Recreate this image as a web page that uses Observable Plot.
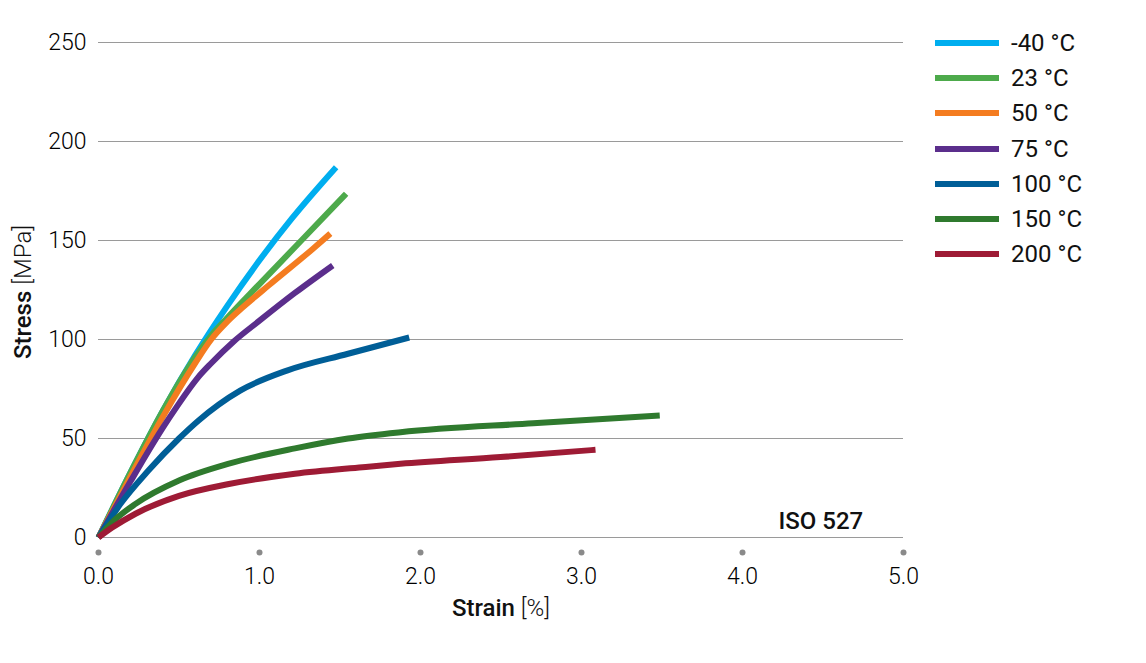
<!DOCTYPE html>
<html>
<head>
<meta charset="utf-8">
<script src="https://cdn.jsdelivr.net/npm/d3@7"></script>
<script src="https://cdn.jsdelivr.net/npm/@observablehq/plot@0.6"></script>
<style>
  html, body { margin: 0; padding: 0; background: #fff; }
  #wrap { position: relative; width: 1146px; height: 663px; font-family: Roboto, "Liberation Sans", sans-serif; }
  #legend { position: absolute; left: 935px; top: 25px; }
  .item { display: flex; align-items: center; height: 35.3px; }
  .sw { width: 64px; height: 6px; margin-right: 12px; }
  .lab { font-size: 24px; color: #111; font-weight: 400; }
</style>
</head>
<body>
<div id="wrap"><div id="legend"></div></div>
<script>
// ---- data ----
const seriesNames = ["-40 °C", "23 °C", "50 °C", "75 °C", "100 °C", "150 °C", "200 °C"];
const seriesColors = ["#00AEEF", "#4DAA4B", "#F47C20", "#5B2E8C", "#005E97", "#2F7A2E", "#9E1B35"];

const strainM40 = [0, 0.2, 0.4, 0.6, 0.8, 1.0, 1.2, 1.476];
const stressM40 = [0, 33, 64, 92, 117, 140, 161, 187];

const strain23 = [0, 0.2, 0.4, 0.6, 0.7, 0.8, 1.0, 1.26, 1.538];
const stress23 = [0, 33, 64, 91, 102, 111, 128, 150, 173.6];

const strain50 = [0, 0.2, 0.4, 0.6, 0.7, 0.8, 0.9, 1.06, 1.327, 1.44];
const stress50 = [0, 31, 61, 88, 100, 109, 116.5, 127.5, 145.5, 153.5];

const strain75 = [0, 0.2, 0.4, 0.49, 0.55, 0.62, 0.7, 0.84, 1.0, 1.22, 1.455];
const stress75 = [0, 28.5, 55.5, 66.5, 73.5, 81, 88, 99, 109.5, 123.5, 137.4];

const strain100 = [0, 0.137, 0.31, 0.5, 0.62, 0.88, 1.17, 1.55, 1.93];
const stress100 = [0, 17, 33.8, 50, 59, 74.2, 84.3, 92.8, 101];

const strain150 = [0, 0.085, 0.23, 0.5, 0.81, 1.22, 1.55, 1.876, 2.7, 3.486];
const stress150 = [0, 7.7, 17, 28.8, 37.3, 45, 50, 53.2, 57.7, 61.6];

const strain200 = [0, 0.085, 0.23, 0.5, 0.81, 1.22, 1.64, 1.876, 2.497, 3.087];
const stress200 = [0, 5, 12, 21, 27, 32.2, 35.5, 37.2, 40.6, 44.3];

const xTicks = [0, 1, 2, 3, 4, 5];
const yTicks = [0, 50, 100, 150, 200, 250];
const note = "ISO 527";

// ---- build table ----
const strains = [strainM40, strain23, strain50, strain75, strain100, strain150, strain200];
const stresses = [stressM40, stress23, stress50, stress75, stress100, stress150, stress200];
const rows = [];
seriesNames.forEach((name, i) => {
  strains[i].forEach((s, j) => rows.push({series: name, strain: s, stress: stresses[i][j]}));
});

const chart = Plot.plot({
  width: 1146,
  height: 663,
  marginLeft: 98,
  marginRight: 243,
  marginTop: 42,
  marginBottom: 126,
  style: {fontFamily: "Roboto, 'Liberation Sans', sans-serif", fontSize: "22px", color: "#111", background: "white"},
  x: {domain: [0, 5], ticks: xTicks, tickFormat: d => d.toFixed(1), label: null},
  y: {domain: [0, 250], ticks: yTicks, label: null},
  color: {domain: seriesNames, range: seriesColors},
  marks: [
    Plot.ruleY(yTicks, {stroke: "#9a9a9a", strokeWidth: 1.2}),
    Plot.axisY(yTicks, {tickSize: 0, tickPadding: 12, fontWeight: 300, fontSize: 23, fill: "#000"}),
    Plot.axisX(xTicks, {tickSize: 0, tickPadding: 30, fontWeight: 300, fontSize: 23, fill: "#000", tickFormat: d => d.toFixed(1)}),
    Plot.dot(xTicks, {x: d => d, y: 0, dy: 15, r: 3, fill: "#8a8a8a", stroke: null}),
    Plot.line(rows, {x: "strain", y: "stress", z: "series", stroke: "series", strokeWidth: 6, curve: "monotone-x", strokeLinecap: "butt"}),
    Plot.text([note], {x: 4.75, y: 8, text: d => d, textAnchor: "end", fontSize: 24, fontWeight: 500, fill: "#111"})
  ]
});
document.getElementById("wrap").prepend(chart);
chart.style.position = "absolute";
chart.style.left = "0";
chart.style.top = "0";

// axis titles with mixed weights
const svg = d3.select(chart);
const xt = svg.append("text").attr("x", 501).attr("y", 616).attr("text-anchor", "middle")
  .attr("font-size", 24).attr("fill", "#111");
xt.append("tspan").attr("font-weight", 500).text("Strain ");
xt.append("tspan").attr("font-weight", 300).text("[%]");
const yt = svg.append("text").attr("transform", "translate(31,292) rotate(-90)").attr("text-anchor", "middle")
  .attr("font-size", 24).attr("fill", "#111");
yt.append("tspan").attr("font-weight", 500).text("Stress ");
yt.append("tspan").attr("font-weight", 300).text("[MPa]");

// legend
const legend = d3.select("#legend");
seriesNames.forEach((n, i) => {
  const it = legend.append("div").attr("class", "item");
  it.append("div").attr("class", "sw").style("background", seriesColors[i]);
  it.append("span").attr("class", "lab").text(n);
});
</script>
</body>
</html>
